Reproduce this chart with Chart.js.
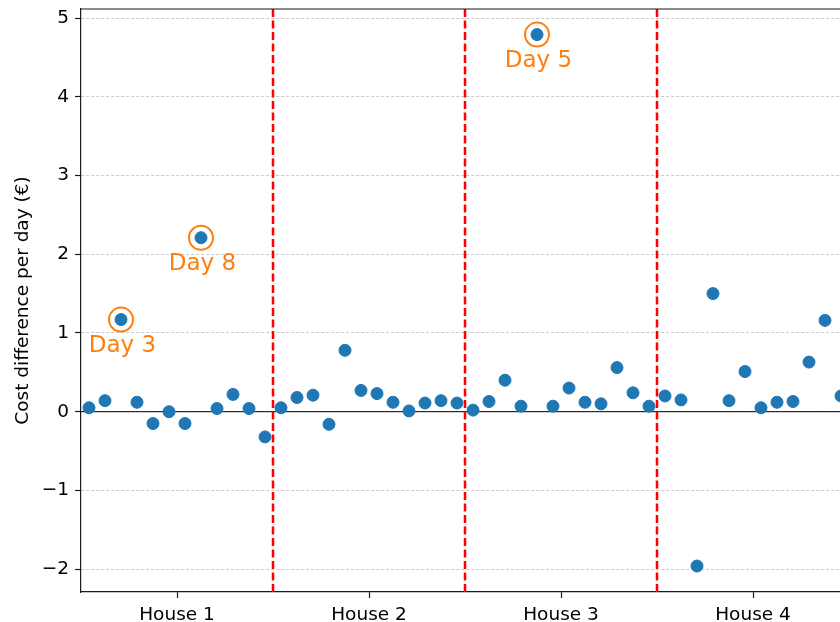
<!DOCTYPE html>
<html>
<head>
<meta charset="utf-8">
<script src="https://cdn.jsdelivr.net/npm/chart.js@4"></script>
<style>
  html, body { margin: 0; padding: 0; background: #fff; overflow: hidden; width: 840px; height: 622px; }
  #wrap { width: 849px; height: 622px; }
</style>
</head>
<body>
<div id="wrap"><canvas id="c" width="849" height="622"></canvas></div>
<script>
// ---- data ----
const houses = ['House 1', 'House 2', 'House 3', 'House 4'];
const days = [1, 2, 3, 4, 5, 6, 7, 8, 9, 10, 11, 12];
const house1Values = [0.05, 0.14, 1.17, 0.12, -0.15, 0.00, -0.15, 2.21, 0.04, 0.22, 0.04, -0.32];
const house2Values = [0.05, 0.18, 0.21, -0.16, 0.78, 0.27, 0.23, 0.12, 0.01, 0.11, 0.14, 0.11];
const house3Values = [0.02, 0.13, 0.40, 0.07, 4.79, 0.07, 0.30, 0.12, 0.10, 0.56, 0.24, 0.07];
const house4Values = [0.20, 0.15, -1.96, 1.50, 0.14, 0.51, 0.05, 0.12, 0.13, 0.63, 1.16, 0.20];
const highlights = [
  { house: 'House 1', day: 3 },
  { house: 'House 1', day: 8 },
  { house: 'House 3', day: 5 }
];
const yTicks = [-2, -1, 0, 1, 2, 3, 4, 5];
const yLabel = 'Cost difference per day (€)';

// ---- build ----
const allValues = [house1Values, house2Values, house3Values, house4Values];
const perHouse = days.length;
const points = [];
allValues.forEach((vals, h) => vals.forEach((v, d) => points.push({ x: h * perHouse + d, y: v })));
const hlPoints = highlights.map(o => {
  const h = houses.indexOf(o.house);
  const d = days.indexOf(o.day);
  return { x: h * perHouse + d, y: allValues[h][d], label: 'Day ' + o.day };
});
const houseCenters = houses.map((_, h) => h * perHouse + (perHouse - 1) / 2);
const separators = houses.slice(1).map((_, h) => (h + 1) * perHouse - 0.5);

const FONT = 'DejaVu Sans';
const SPINE = '#1a1a1a';

const overlay = {
  id: 'overlay',
  beforeDatasetsDraw(chart) {
    const { ctx, chartArea: a, scales: { x, y } } = chart;
    ctx.save();
    ctx.beginPath();
    ctx.rect(a.left, a.top, a.right - a.left, a.bottom - a.top);
    ctx.clip();
    // zero line
    const y0 = y.getPixelForValue(0);
    ctx.strokeStyle = '#000';
    ctx.lineWidth = 1;
    ctx.beginPath();
    ctx.moveTo(a.left, y0);
    ctx.lineTo(a.right, y0);
    ctx.stroke();
    // separators
    ctx.strokeStyle = '#ff0000';
    ctx.lineWidth = 2.5;
    ctx.setLineDash([8, 3.5]);
    separators.forEach(s => {
      const px = x.getPixelForValue(s);
      ctx.beginPath();
      ctx.moveTo(px, a.bottom);
      ctx.lineTo(px, a.top);
      ctx.stroke();
    });
    ctx.restore();
  },
  afterDraw(chart) {
    const { ctx, chartArea: a, scales: { x, y } } = chart;
    ctx.save();
    // top spine
    ctx.strokeStyle = SPINE;
    ctx.lineWidth = 1.2;
    ctx.beginPath();
    ctx.moveTo(a.left, a.top);
    ctx.lineTo(a.right, a.top);
    ctx.stroke();
    // labels
    ctx.fillStyle = '#ff7f0e';
    ctx.font = '23px "' + FONT + '"';
    ctx.textAlign = 'center';
    ctx.textBaseline = 'middle';
    hlPoints.forEach(p => {
      ctx.fillText(p.label, x.getPixelForValue(p.x) + 1.5, y.getPixelForValue(p.y) + 26);
    });
    ctx.restore();
  }
};

new Chart(document.getElementById('c'), {
  type: 'scatter',
  data: {
    datasets: [
      {
        data: points,
        backgroundColor: '#1f77b4',
        borderColor: '#1f77b4',
        borderWidth: 1,
        pointRadius: 6,
        pointHoverRadius: 6,
        clip: false
      },
      {
        data: hlPoints,
        backgroundColor: 'rgba(0,0,0,0)',
        borderColor: '#ff7f0e',
        borderWidth: 2,
        pointRadius: 12,
        pointHoverRadius: 12,
        clip: false
      }
    ]
  },
  plugins: [overlay],
  options: {
    responsive: false,
    animation: false,
    events: [],
    layout: { autoPadding: false, padding: { top: 9, left: 0, right: 0, bottom: 0 } },
    plugins: { legend: { display: false }, tooltip: { enabled: false } },
    scales: {
      x: {
        type: 'linear',
        min: -0.5,
        max: houses.length * perHouse - 0.5,
        afterBuildTicks(scale) { scale.ticks = houseCenters.map(v => ({ value: v })); },
        afterFit(scale) { scale.height = 30; scale.paddingLeft = 0; scale.paddingRight = 0; },
        ticks: {
          autoSkip: false,
          maxRotation: 0,
          padding: 6,
          color: '#000',
          font: { family: FONT, size: 18.5 },
          callback: (v) => { const i = houseCenters.indexOf(v); return i >= 0 ? houses[i] : ''; }
        },
        grid: { drawOnChartArea: false, drawTicks: true, tickLength: 6, tickColor: SPINE, tickWidth: 1.2 },
        border: { display: true, color: SPINE, width: 1.2 }
      },
      y: {
        type: 'linear',
        min: -2.29,
        max: 5.115,
        afterBuildTicks(scale) { scale.ticks = yTicks.map(v => ({ value: v })); },
        afterFit(scale) { scale.width = 81; scale.paddingTop = 0; scale.paddingBottom = 0; },
        ticks: {
          padding: 6,
          color: '#000',
          font: { family: FONT, size: 18.5 },
          callback: (v) => v < 0 ? '\u2212' + Math.abs(v) : String(v)
        },
        grid: { color: '#bdbdbd', lineWidth: 0.8, drawTicks: true, tickLength: 6, tickColor: SPINE, tickWidth: 1.2, tickBorderDash: [] },
        border: { display: true, color: SPINE, width: 1.2, dash: [3, 2] },
        title: {
          display: true,
          text: yLabel,
          color: '#000',
          font: { family: FONT, size: 18.5 },
          padding: { top: 12, bottom: 0 }
        }
      }
    }
  }
});
</script>
</body>
</html>
